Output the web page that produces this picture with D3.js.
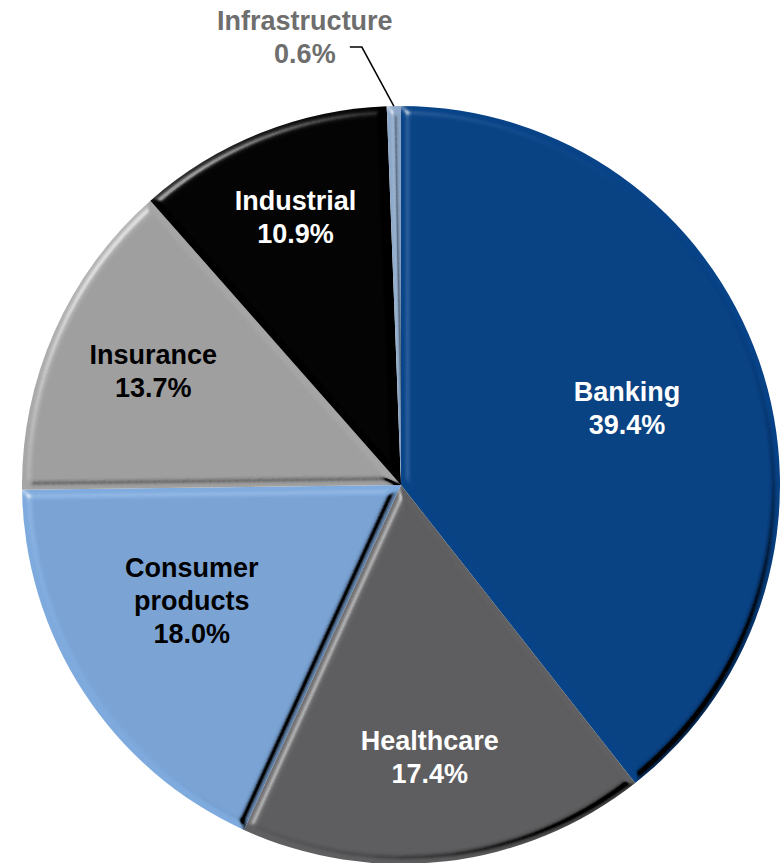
<!DOCTYPE html>
<html>
<head>
<meta charset="utf-8">
<script src="https://cdn.jsdelivr.net/npm/d3@7"></script>
<style>
  html, body { margin: 0; padding: 0; background: #fff; }
  svg { display: block; }
</style>
</head>
<body>
<script>
// Sector breakdown (share of total, %), clockwise from 12 o'clock
const categories = ["Banking", "Healthcare", "Consumer products", "Insurance", "Industrial", "Infrastructure"];
const values = [39.4, 17.4, 18.0, 13.7, 10.9, 0.6];
const labelLines = [["Banking"], ["Healthcare"], ["Consumer", "products"], ["Insurance"], ["Industrial"], ["Infrastructure"]];

// Styling
const sliceColors = ["#084388", "#606062", "#7eaade", "#a5a5a5", "#000000", "#8ea9c9"];
const textColors = ["#ffffff", "#ffffff", "#000000", "#000000", "#ffffff", "#6e6e6e"];

// Label placement: fraction of radius, angular nudge (deg)
const labelRadius = [0.63, 0.72, 0.63, 0.72, 0.76, null];
const labelNudge = [0.3, 0.8, 4.3, 0.8, 0.3, 0];

const W = 784, H = 863;
const cx = 401, cy = 485, R = 379;
const fontSize = 27, lineGap = 33;

const svg = d3.select("body").append("svg")
  .attr("width", W).attr("height", H);

// Bevel: highlight on the top-left faces, shade on the bottom-right faces
const defs = svg.append("defs");
const f = defs.append("filter").attr("id", "bevel")
  .attr("color-interpolation-filters", "sRGB")
  .attr("x", "-5%").attr("y", "-5%").attr("width", "110%").attr("height", "110%");
f.append("feGaussianBlur").attr("in", "SourceAlpha").attr("stdDeviation", 4).attr("result", "bump");
function lightPass(az, name, rgb, alpha, k) {
  const s = f.append("feSpecularLighting").attr("in", "bump")
    .attr("surfaceScale", 7).attr("specularConstant", k).attr("specularExponent", 22)
    .attr("lighting-color", "#ffffff").attr("result", name + "Raw");
  s.append("feDistantLight").attr("azimuth", az).attr("elevation", 25);
  f.append("feColorMatrix").attr("in", name + "Raw").attr("type", "matrix")
    .attr("values", `0 0 0 0 ${rgb}  0 0 0 0 ${rgb}  0 0 0 0 ${rgb}  0 0 0 ${alpha} 0`)
    .attr("result", name + "A");
  f.append("feComposite").attr("in", name + "A").attr("in2", "SourceAlpha")
    .attr("operator", "in").attr("result", name);
}
lightPass(45, "lo", 0, 1, 1.6);
lightPass(225, "hi", 1, 0.6, 1.2);
const merge = f.append("feMerge");
merge.append("feMergeNode").attr("in", "SourceGraphic");
merge.append("feMergeNode").attr("in", "lo");
merge.append("feMergeNode").attr("in", "hi");

const data = categories.map((c, i) => ({ name: c, value: values[i], i }));
const pie = d3.pie().value(d => d.value).sort(null);
const arcs = pie(data);
const arc = d3.arc().innerRadius(0).outerRadius(R);

const g = svg.append("g").attr("transform", `translate(${cx},${cy})`);

g.selectAll("path.slice")
  .data(arcs)
  .join("path")
  .attr("class", "slice")
  .attr("d", arc)
  .attr("fill", d => sliceColors[d.data.i])
  .attr("filter", "url(#bevel)");

const pct = v => v.toFixed(1) + "%";

// Inside labels
arcs.forEach(a => {
  const i = a.data.i;
  if (labelRadius[i] == null) return;
  const mid = (a.startAngle + a.endAngle) / 2 + labelNudge[i] * Math.PI / 180;
  const r = R * labelRadius[i];
  const x = r * Math.sin(mid), y = -r * Math.cos(mid);
  const lines = labelLines[i].concat([pct(values[i])]);
  const first = y - (lines.length - 1) * lineGap / 2 + fontSize * 0.36;
  const t = g.append("text")
    .attr("text-anchor", "middle")
    .attr("font-family", "'Liberation Sans', Arial, sans-serif")
    .attr("font-weight", "bold")
    .attr("font-size", fontSize)
    .attr("fill", textColors[i]);
  lines.forEach((ln, k) => {
    t.append("tspan").attr("x", x).attr("y", first + k * lineGap).text(ln);
  });
});

// Outside label with leader for the thin slice
arcs.filter(a => labelRadius[a.data.i] == null).forEach(a => {
  const i = a.data.i;
  const mid = (a.startAngle + a.endAngle) / 2;
  const px = R * Math.sin(mid), py = -R * Math.cos(mid);
  const elbow = [px - 32, py - 59];
  const tail = [elbow[0] - 12, elbow[1]];
  g.append("path")
    .attr("d", d3.line()([[px, py], elbow, tail]))
    .attr("fill", "none").attr("stroke", "#000").attr("stroke-width", 1.5);
  const tx = tail[0] - 45, ty = tail[1];
  const lines = labelLines[i].concat([pct(values[i])]);
  const t = g.append("text")
    .attr("text-anchor", "middle")
    .attr("font-family", "'Liberation Sans', Arial, sans-serif")
    .attr("font-weight", "bold")
    .attr("font-size", fontSize)
    .attr("fill", textColors[i]);
  lines.forEach((ln, k) => {
    t.append("tspan").attr("x", tx).attr("y", ty - lineGap + 16 + k * lineGap).text(ln);
  });
});
</script>
</body>
</html>
